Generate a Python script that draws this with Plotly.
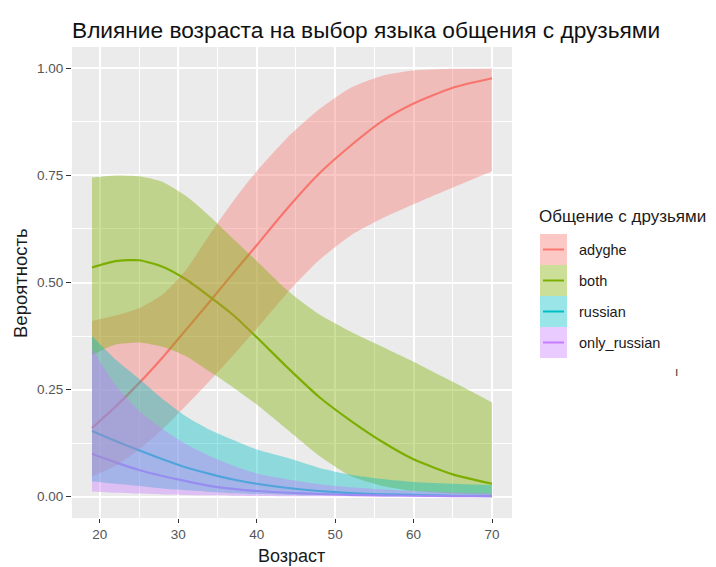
import plotly.graph_objects as go

ages = [19, 22, 25, 28, 31, 34, 37, 40, 44, 48, 52, 56, 60, 65, 70]

series_names = ["adyghe", "both", "russian", "only_russian"]

adyghe_fit = [0.160, 0.210, 0.265, 0.325, 0.390, 0.455, 0.522, 0.587, 0.675, 0.755, 0.820, 0.877, 0.918, 0.955, 0.977]
adyghe_upper = [0.410, 0.423, 0.440, 0.472, 0.530, 0.612, 0.690, 0.760, 0.840, 0.905, 0.955, 0.983, 0.995, 0.999, 1.000]
adyghe_lower = [0.047, 0.072, 0.110, 0.158, 0.213, 0.270, 0.330, 0.392, 0.478, 0.553, 0.610, 0.650, 0.683, 0.722, 0.760]

both_fit = [0.535, 0.550, 0.552, 0.537, 0.507, 0.467, 0.424, 0.372, 0.300, 0.232, 0.177, 0.128, 0.087, 0.052, 0.030]
both_upper = [0.745, 0.750, 0.748, 0.735, 0.702, 0.655, 0.602, 0.550, 0.480, 0.425, 0.385, 0.350, 0.315, 0.268, 0.220]
both_lower = [0.330, 0.355, 0.360, 0.350, 0.328, 0.292, 0.255, 0.215, 0.155, 0.095, 0.048, 0.025, 0.013, 0.007, 0.004]

russian_fit = [0.153, 0.130, 0.108, 0.087, 0.068, 0.053, 0.040, 0.030, 0.020, 0.013, 0.008, 0.005, 0.004, 0.002, 0.001]
russian_upper = [0.375, 0.320, 0.275, 0.228, 0.187, 0.156, 0.132, 0.110, 0.090, 0.067, 0.051, 0.041, 0.034, 0.030, 0.027]
russian_lower = [0.036, 0.030, 0.025, 0.019, 0.015, 0.011, 0.008, 0.006, 0.004, 0.003, 0.002, 0.001, 0.001, 0.0005, 0.0003]

only_fit = [0.100, 0.080, 0.062, 0.048, 0.036, 0.025, 0.018, 0.013, 0.009, 0.006, 0.004, 0.003, 0.002, 0.001, 0.001]
only_upper = [0.345, 0.260, 0.200, 0.158, 0.122, 0.095, 0.072, 0.054, 0.040, 0.029, 0.022, 0.017, 0.013, 0.010, 0.008]
only_lower = [0.012, 0.009, 0.007, 0.005, 0.004, 0.003, 0.002, 0.0015, 0.001, 0.0007, 0.0005, 0.0003, 0.0002, 0.0001, 0.0001]

y_ticks = [0.0, 0.25, 0.5, 0.75, 1.0]
y_tick_labels = ["0.00", "0.25", "0.50", "0.75", "1.00"]
x_ticks = [20, 30, 40, 50, 60, 70]

colors = ["#F8766D", "#7CAE00", "#00BFC4", "#C77CFF"]
fills = ["rgba(248,118,109,0.4)", "rgba(124,174,0,0.4)", "rgba(0,191,196,0.4)", "rgba(199,124,255,0.4)"]

fits = [adyghe_fit, both_fit, russian_fit, only_fit]
uppers = [adyghe_upper, both_upper, russian_upper, only_upper]
lowers = [adyghe_lower, both_lower, russian_lower, only_lower]

SM = 0.6
fig = go.Figure()

# lines first (ribbons are drawn over them, as in the reference)
for name, fit, col in zip(series_names, fits, colors):
    fig.add_trace(go.Scatter(x=ages, y=fit, mode="lines", name=name,
                             line=dict(color=col, width=2.2, shape="spline", smoothing=SM),
                             showlegend=False, hoverinfo="skip"))

for name, up, lo, fc in zip(series_names, uppers, lowers, fills):
    fig.add_trace(go.Scatter(x=ages, y=up, mode="lines", line=dict(width=0, shape="spline", smoothing=SM),
                             showlegend=False, hoverinfo="skip"))
    fig.add_trace(go.Scatter(x=ages, y=lo, mode="lines", line=dict(width=0, shape="spline", smoothing=SM),
                             fill="tonexty", fillcolor=fc, showlegend=False, hoverinfo="skip"))

OFF = 8  # page body margin offset
W, H = 716 - OFF, 567 - OFF
PL, PR, PT, PB = 72 - OFF, 512 - OFF, 47 - OFF, 518 - OFF  # plot area in figure px
L, R, T, B = PL, W - PR, PT, H - PB


def ax(x):
    return (x - OFF - PL) / (PR - PL)


def ay(y):
    return (PB - (y - OFF)) / (PB - PT)


FONT = "Liberation Sans, Arial"
shapes = []
annotations = []

# manual ggplot-style legend
key_x0, key_x1 = 540, 567
key_top = 234
key_h = 31
for i, (name, col, fc) in enumerate(zip(series_names, colors, fills)):
    y0 = key_top + i * key_h
    y1 = y0 + key_h
    ym = (y0 + y1) / 2
    shapes.append(dict(type="rect", xref="paper", yref="paper",
                       x0=ax(key_x0), x1=ax(key_x1), y0=ay(y1), y1=ay(y0),
                       fillcolor=fc, line=dict(width=0), layer="above"))
    shapes.append(dict(type="line", xref="paper", yref="paper",
                       x0=ax(key_x0 + 3), x1=ax(key_x1 - 3), y0=ay(ym), y1=ay(ym),
                       line=dict(color=col, width=2), layer="above"))
    annotations.append(dict(xref="paper", yref="paper", x=ax(577), y=ay(ym),
                            text=name, showarrow=False, xanchor="left", yanchor="middle",
                            font=dict(family=FONT, size=14.5, color="#1a1a1a")))

annotations.append(dict(xref="paper", yref="paper", x=ax(537), y=ay(216),
                        text="Общение с друзьями", showarrow=False, xanchor="left", yanchor="middle",
                        font=dict(family=FONT, size=17, color="#1a1a1a")))

annotations.append(dict(xref="paper", yref="paper", x=ax(676), y=ay(372),
                        text="ı", showarrow=False, xanchor="center", yanchor="middle",
                        font=dict(family=FONT, size=12, color="#333333")))

# axis titles
annotations.append(dict(xref="paper", yref="paper", x=ax(291), y=ay(556),
                        text="Возраст", showarrow=False, xanchor="center", yanchor="middle",
                        font=dict(family=FONT, size=18, color="#1a1a1a")))
annotations.append(dict(xref="paper", yref="paper", x=ax(20), y=ay(283),
                        text="Вероятность", showarrow=False, xanchor="center", yanchor="middle",
                        textangle=-90, font=dict(family=FONT, size=18.5, color="#1a1a1a")))

fig.update_layout(
    width=W, height=H,
    margin=dict(l=L, r=R, t=T, b=B, autoexpand=False),
    paper_bgcolor="white",
    plot_bgcolor="#EBEBEB",
    showlegend=False,
    title=dict(text="Влияние возраста на выбор языка общения с друзьями",
               x=(72 - OFF) / W, xref="container", xanchor="left",
               y=1 - (30 - OFF) / H, yref="container", yanchor="middle",
               font=dict(family=FONT, size=22.7, color="#111111")),
    shapes=shapes,
    annotations=annotations,
    xaxis=dict(range=[16.45, 72.55], tickvals=x_ticks, ticktext=[str(v) for v in x_ticks],
               showgrid=True, gridcolor="white", gridwidth=1.6, zeroline=False,
               ticks="outside", ticklen=4, tickcolor="#333333", tickwidth=1,
               tickfont=dict(family=FONT, size=13.5, color="#555555"),
               minor=dict(tickvals=[25, 35, 45, 55, 65], showgrid=True, gridcolor="white",
                          gridwidth=0.8, ticks=""),
               showline=False),
    yaxis=dict(range=[-0.05, 1.05], tickvals=y_ticks, ticktext=y_tick_labels,
               showgrid=True, gridcolor="white", gridwidth=1.6, zeroline=False,
               ticks="outside", ticklen=5, tickcolor="#333333", tickwidth=1,
               tickfont=dict(family=FONT, size=13.5, color="#555555"),
               minor=dict(tickvals=[0.125, 0.375, 0.625, 0.875], showgrid=True, gridcolor="white",
                          gridwidth=0.8, ticks=""),
               showline=False),
)

fig.write_html("out.html")
